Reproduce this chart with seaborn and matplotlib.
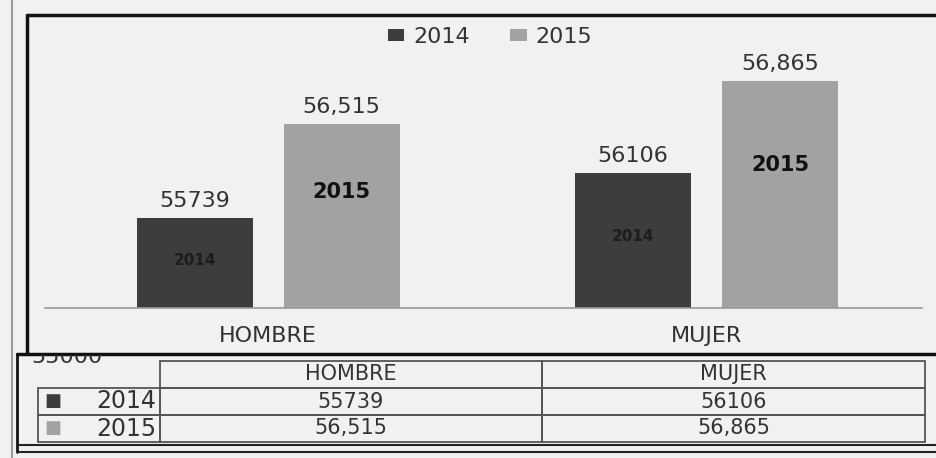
import matplotlib
matplotlib.use("Agg")
import matplotlib.pyplot as plt
import seaborn as sns
import pandas as pd
from matplotlib.lines import Line2D
from matplotlib.table import Table
from matplotlib.transforms import Bbox, TransformedBbox

# data
categories = ["HOMBRE", "MUJER"]
years = ["2014", "2015"]
values_2014 = [55739, 56106]
values_2015 = [56515, 56865]
labels_2014 = ["55739", "56106"]
labels_2015 = ["56,515", "56,865"]
y_min = 55000
y_max = 57300

df = pd.DataFrame({
    "sexo": categories * 2,
    "year": [years[0]] * 2 + [years[1]] * 2,
    "valor": values_2014 + values_2015,
})

bg = "#f1f1f1"
dark = "#3d3d3d"
light = "#a2a2a2"
txt = "#333333"

sns.set_style("white")
plt.rcParams["font.family"] = ["DejaVu Sans"]

W, H = 937, 458
fig = plt.figure(figsize=(W / 100, H / 100), dpi=100, facecolor=bg)


def fx(px):
    return px / W


def fy(py):
    return 1 - py / H


# main bar chart
ax = fig.add_axes([fx(45), fy(308), fx(922) - fx(45), fy(28) - fy(308)])
ax.set_facecolor(bg)
sns.barplot(data=df, x="sexo", y="valor", hue="year", palette=[dark, light],
            width=0.67, gap=0.21, saturation=1, linewidth=0, ax=ax)
ax.set_ylim(y_min, y_max)
ax.set_xlim(-0.509, 1.491)
for s in ["left", "right", "top"]:
    ax.spines[s].set_visible(False)
ax.spines["bottom"].set_color("#9a9a9a")
ax.spines["bottom"].set_linewidth(1.2)
ax.set_yticks([])
ax.set_xlabel("")
ax.set_ylabel("")
ax.tick_params(axis="x", length=0, pad=13, labelsize=16, labelcolor=txt)

handles, labels = ax.get_legend_handles_labels()
ax.legend(handles, labels, loc="center", bbox_to_anchor=(fx(490), fy(37)),
          bbox_transform=fig.transFigure, ncol=2, frameon=False,
          handlelength=0.75, handleheight=0.4, handletextpad=0.4,
          columnspacing=1.8, fontsize=16, labelcolor=txt)

for cont, labs in zip(ax.containers, [labels_2014, labels_2015]):
    ax.bar_label(cont, labels=labs, padding=5, fontsize=16, color=txt)

# year text inside the bars
for bar in ax.containers[0]:
    ax.text(bar.get_x() + bar.get_width() / 2, y_min + 0.53 * (bar.get_height() - y_min),
            years[0], ha="center", va="center", fontsize=11, fontweight="bold",
            color="#1c1c1c")
for bar in ax.containers[1]:
    ax.text(bar.get_x() + bar.get_width() / 2, y_min + 0.63 * (bar.get_height() - y_min),
            years[1], ha="center", va="center", fontsize=15, fontweight="bold",
            color="#111111")

# data table under the chart
tax = fig.add_axes([fx(38), fy(442), fx(925) - fx(38), fy(361) - fy(442)])
tax.axis("off")
tbl = Table(tax, bbox=[0, 0, 1, 1])
col_w = [122, 382, 383]
rows = [["", categories[0], categories[1]],
        [years[0], labels_2014[0], labels_2014[1]],
        [years[1], labels_2015[0], labels_2015[1]]]
for r, row in enumerate(rows):
    for c, val in enumerate(row):
        cell = tbl.add_cell(r, c, col_w[c], 1, text=val,
                            loc="right" if c == 0 else "center",
                            facecolor="none", edgecolor="#555555")
        cell.set_linewidth(1.3)
        cell.get_text().set_color(txt)
        cell.get_text().set_fontsize(17 if c == 0 else 15)
        if c == 0:
            cell.PAD = 0.03
        if r == 0 and c == 0:
            cell.visible_edges = "open"
tbl.auto_set_font_size(False)
tax.add_table(tbl)

# legend squares in the table row labels
tax.text(0.017, 0.5, "■", transform=tax.transAxes, ha="center", va="center",
         fontsize=13, color=dark)
tax.text(0.017, 0.167, "■", transform=tax.transAxes, ha="center", va="center",
         fontsize=13, color=light)

# y tick label hidden behind the table
t = fig.text(fx(31), fy(363), f"{y_min}", ha="left", va="baseline",
             fontsize=16, color=txt)
t.set_clip_box(TransformedBbox(Bbox.from_extents(fx(17), fy(450), fx(160), fy(355)),
                               fig.transFigure))
t.set_clip_on(True)

# frame lines of the scanned page
frame = [
    ((12, 12), (0, 458), "#9a9a9a", 1.5),
    ((27, 27), (15, 353), "#111111", 2.5),
    ((27, 937), (15, 15), "#111111", 2.5),
    ((17, 937), (354, 354), "#111111", 2.5),
    ((17, 17), (354, 452), "#111111", 2.0),
    ((17, 937), (445, 445), "#222222", 1.5),
    ((17, 937), (452, 452), "#222222", 1.5),
]
for xs, ys, col, lw in frame:
    fig.add_artist(Line2D([fx(x) for x in xs], [fy(y) for y in ys],
                          transform=fig.transFigure, color=col, lw=lw))

fig.savefig("out.png", dpi=100, facecolor=bg)
